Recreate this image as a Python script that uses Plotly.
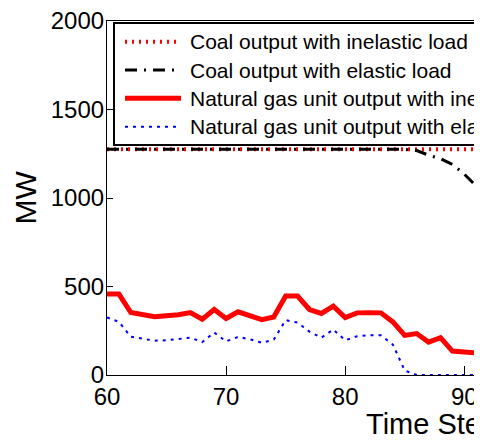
import plotly.graph_objects as go

time_steps = list(range(60, 93))
coal_inelastic = [1275] * len(time_steps)
coal_elastic = [1275] * 26 + [1268, 1242, 1222, 1190, 1135, 1065, 1000]
gas_inelastic = [457, 457, 353, 338, 329, 335, 340, 353, 315, 370, 319, 357, 338, 313, 328,
                 446, 446, 370, 348, 389, 325, 351, 352, 351, 300, 224, 234, 186, 211, 135,
                 130, 124, 120]
gas_elastic = [325, 300, 216, 205, 194, 196, 203, 211, 186, 240, 190, 215, 202, 182, 200,
               310, 296, 245, 211, 257, 196, 219, 224, 224, 172, 25, 0, 0, 0, 0,
               0, 0, 0]

legend_labels = ["Coal output with inelastic load",
                 "Coal output with elastic load",
                 "Natural gas unit output with inelastic load",
                 "Natural gas unit output with elastic load"]

FONT = "Arial, 'Liberation Sans', sans-serif"
OFF = 8  # page body margin
W, H = 482 - OFF, 440 - OFF
L, T = 107 - OFF, 21 - OFF
R = 0
B = H - (375 - OFF)
PW, PH = W - L - R, H - T - B

styles = [
    dict(color="#ff0000", width=4, dash="2px,5px"),
    dict(color="#000000", width=3, dash="12px,7px,2px,7px"),
    dict(color="#ff0000", width=5, dash="solid"),
    dict(color="#0000ff", width=2, dash="3px,5px"),
]
series = [coal_inelastic, coal_elastic, gas_inelastic, gas_elastic]

fig = go.Figure()
for name, ys, st in zip(legend_labels, series, styles):
    fig.add_trace(go.Scatter(x=time_steps, y=ys, mode="lines", name=name,
                             line=st, showlegend=False))

# helpers: page pixel -> paper coordinates
def px_x(p):
    return (p - OFF - L) / PW

def px_y(p):
    return (H - B - (p - OFF)) / PH

shapes = [dict(type="rect", xref="paper", yref="paper",
               x0=px_x(114), x1=px_x(700), y0=px_y(145), y1=px_y(23),
               line=dict(color="black", width=2), fillcolor="white", layer="above")]
annotations = []
rows = [41.7, 70, 98.3, 126.7]
for lab, st, ry in zip(legend_labels, styles, rows):
    shapes.append(dict(type="line", xref="paper", yref="paper",
                       x0=px_x(125), x1=px_x(181), y0=px_y(ry), y1=px_y(ry),
                       line=st, layer="above"))
    annotations.append(dict(text=lab, xref="paper", yref="paper",
                            x=px_x(188), y=px_y(ry), xanchor="left", yanchor="middle",
                            showarrow=False, font=dict(family=FONT, size=21, color="black")))

annotations.append(dict(text="MW", xref="paper", yref="paper", x=px_x(25), y=px_y(197.5),
                        textangle=-90, showarrow=False, xanchor="center", yanchor="middle",
                        font=dict(family=FONT, size=30, color="black")))
annotations.append(dict(text="Time Step", xref="paper", yref="paper", x=px_x(364), y=px_y(424),
                        showarrow=False, xanchor="left", yanchor="middle",
                        font=dict(family=FONT, size=29, color="black")))

fig.update_layout(
    width=W, height=H,
    margin=dict(l=L, r=R, t=T, b=B, pad=0),
    paper_bgcolor="white", plot_bgcolor="white",
    shapes=shapes, annotations=annotations,
    xaxis=dict(range=[60, 60 + PW / 11.91], tickvals=[60, 70, 80, 90],
               ticks="inside", ticklen=9, tickwidth=1.2, tickcolor="black",
               showline=True, linecolor="black", linewidth=1.2, mirror=True,
               showgrid=False, zeroline=False, automargin=False,
               ticklabeloverflow="allow",
               tickfont=dict(family=FONT, size=24, color="black")),
    yaxis=dict(range=[0, 2000], tickvals=[0, 500, 1000, 1500, 2000],
               ticks="inside", ticklen=6, tickwidth=1.2, tickcolor="black",
               showline=True, linecolor="black", linewidth=1.2,
               showgrid=False, zeroline=False, automargin=False,
               ticklabeloverflow="allow", ticklabelstandoff=-3,
               tickfont=dict(family=FONT, size=24, color="black")),
)

fig.write_html("out.html")
